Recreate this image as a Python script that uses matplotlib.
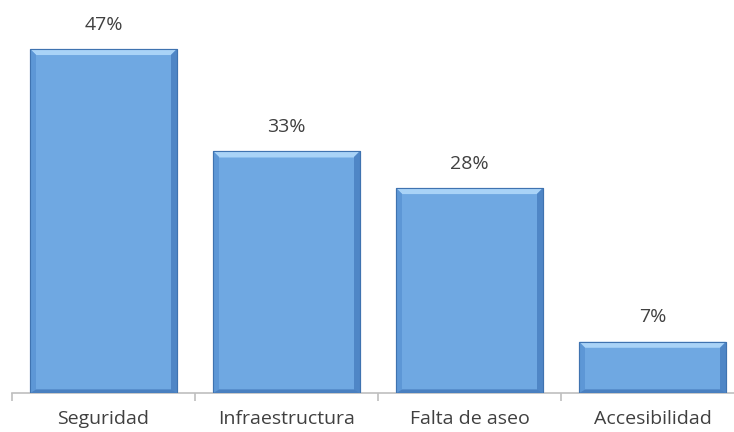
import numpy as np
import matplotlib.pyplot as plt
from matplotlib.patches import Polygon

categories = ['Seguridad', 'Infraestructura', 'Falta de aseo', 'Accesibilidad']
values = [47, 33, 28, 7]
labels = ['47%', '33%', '28%', '7%']

plt.rcParams['font.family'] = ['Open Sans', 'DejaVu Sans']

fig = plt.figure(figsize=(7.34, 4.32), dpi=100)
ax = fig.add_axes([12 / 734, 39 / 432, 732 / 734, 393 / 432])
ax.set_xlim(-0.5, 3.5)
ax.set_ylim(0, 53.7)

x = np.arange(len(values))
w = 0.8
face = '#6fa8e2'
bars = ax.bar(x, values, width=w, color=face, edgecolor='#4a7ebb', linewidth=0.8, zorder=2)

# bevel edges, sized in pixels
fig.canvas.draw()
inv = ax.transData.inverted()
p0 = inv.transform((0, 0))
p1 = inv.transform((6, 6))
bx, by = p1 - p0
for b in bars:
    x0, x1 = b.get_x(), b.get_x() + b.get_width()
    y1 = b.get_height()
    top = Polygon([(x0, y1), (x1, y1), (x1 - bx, y1 - by), (x0 + bx, y1 - by)],
                  closed=True, color='#a9d3f7', lw=0, zorder=3)
    right = Polygon([(x1, y1), (x1, 0), (x1 - bx, 0), (x1 - bx, y1 - by)],
                    closed=True, color='#4f86c6', lw=0, zorder=3)
    left = Polygon([(x0, y1), (x0, 0), (x0 + bx, 0), (x0 + bx, y1 - by)],
                   closed=True, color='#5d97d6', lw=0, zorder=3)
    bottom = Polygon([(x0, 0), (x1, 0), (x1 - bx, by * 0.6), (x0 + bx, by * 0.6)],
                     closed=True, color='#4a80c0', lw=0, zorder=3)
    for p in (top, right, left, bottom):
        ax.add_patch(p)
    ax.add_patch(plt.Rectangle((x0, 0), x1 - x0, y1, fill=False,
                               edgecolor='#3f73b0', lw=0.8, zorder=4))

for xi, v, lab in zip(x, values, labels):
    ax.text(xi, v + 2.1, lab, ha='center', va='bottom', fontsize=14, color='#404040')

for s in ['top', 'right', 'left']:
    ax.spines[s].set_visible(False)
ax.spines['bottom'].set_color('#bfbfbf')
ax.spines['bottom'].set_linewidth(1.2)
ax.set_yticks([])
ax.set_xticks(x)
ax.set_xticklabels(categories, fontsize=14, color='#404040')
ax.tick_params(axis='x', which='major', length=0, pad=12)
ax.set_xticks(np.arange(-0.5, 3.6, 1), minor=True)
ax.tick_params(axis='x', which='minor', length=6, color='#bfbfbf', width=1.2)

fig.savefig('out.png', dpi=100)
